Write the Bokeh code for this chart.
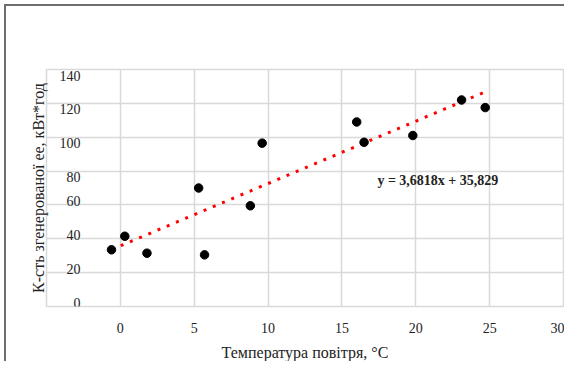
from bokeh.plotting import figure
from bokeh.models import ColumnDataSource, FixedTicker, Range1d, LabelSet, Label
from bokeh.embed import file_html
from bokeh.resources import INLINE

# data
temp = [-0.6, 0.3, 1.8, 5.3, 5.7, 8.8, 9.6, 16.0, 16.5, 19.8, 23.1, 24.7]
energy = [33.5, 41.5, 31.5, 70.0, 30.5, 59.5, 96.5, 109.0, 97.0, 101.0, 122.0, 117.5]
slope = 3.6818
intercept = 35.829
equation = "y = 3,6818x + 35,829"
y_ticks = [0, 20, 40, 60, 80, 100, 120, 140]
x_ticks = [0, 5, 10, 15, 20, 25, 30]
x_title = "Температура повітря, °C"
y_title = "К-сть згенерованої ее, кВт*год"

SERIF = "Liberation Serif"

p = figure(width=560, height=357, output_backend="svg", toolbar_location=None,
           x_range=Range1d(-5, 30), y_range=Range1d(0, 140),
           min_border_left=40, min_border_top=63, min_border_right=3, min_border_bottom=54,
           styles={"border-left": "2px solid #6e6e6e", "border-top": "2px solid #6e6e6e",
                   "margin-left": "4px", "margin-top": "4px"})

p.outline_line_color = "#d9d9d9"
p.outline_line_width = 1.5
p.background_fill_color = "white"
p.border_fill_color = "white"

# x axis
xa = p.xaxis[0]
xa.ticker = FixedTicker(ticks=x_ticks)
xa.axis_line_color = None
xa.major_tick_line_color = None
xa.minor_tick_line_color = None
xa.major_label_text_font = SERIF
xa.major_label_text_font_size = "14px"
xa.major_label_text_color = "#222222"
xa.major_label_standoff = 10
xa.axis_label = x_title
xa.axis_label_text_font = SERIF
xa.axis_label_text_font_style = "normal"
xa.axis_label_text_font_size = "16px"
xa.axis_label_text_color = "#222222"
xa.axis_label_standoff = 8

# y axis (title only)
ya = p.yaxis[0]
ya.ticker = FixedTicker(ticks=[])
ya.axis_line_color = None
ya.major_tick_line_color = None
ya.minor_tick_line_color = None
ya.major_label_standoff = 0
ya.axis_label = y_title
ya.axis_label_text_font = SERIF
ya.axis_label_text_font_style = "normal"
ya.axis_label_text_font_size = "16px"
ya.axis_label_text_color = "#222222"
ya.axis_label_standoff = 0

p.xgrid.ticker = FixedTicker(ticks=[-5] + x_ticks)
p.ygrid.ticker = FixedTicker(ticks=y_ticks)
for g in (p.xgrid[0], p.ygrid[0]):
    g.grid_line_color = "#d9d9d9"
    g.grid_line_width = 1.5

# y tick labels drawn inside the plot area (upper ones hang below their line,
# lower ones sit above it, as in the reference)
upper = [v for v in y_ticks if v >= 80]
lower = [v for v in y_ticks if v < 80]
for vals, base in ((upper, "top"), (lower, "bottom")):
    src = ColumnDataSource(dict(x=[-2.7] * len(vals), y=vals, t=[str(v) for v in vals]))
    p.add_layout(LabelSet(x="x", y="y", text="t", source=src, text_align="right",
                          text_baseline=base, text_font=SERIF, text_font_size="14px",
                          text_color="#222222", y_offset=(-1 if base == "top" else -1)))

# trend line
tx = [min(temp), max(temp)]
ty = [slope * v + intercept for v in tx]
p.line(tx, ty, line_color="#ff0000", line_width=3, line_dash="3 7")

# points
p.scatter(temp, energy, size=8.5, fill_color="black", line_color="black")

# equation
p.add_layout(Label(x=17.4, y=74.5, text=equation, text_align="left", text_baseline="middle",
                   text_font=SERIF, text_font_size="14px", text_font_style="bold",
                   text_color="#222222"))

open("out.html", "w").write(file_html(p, INLINE))
